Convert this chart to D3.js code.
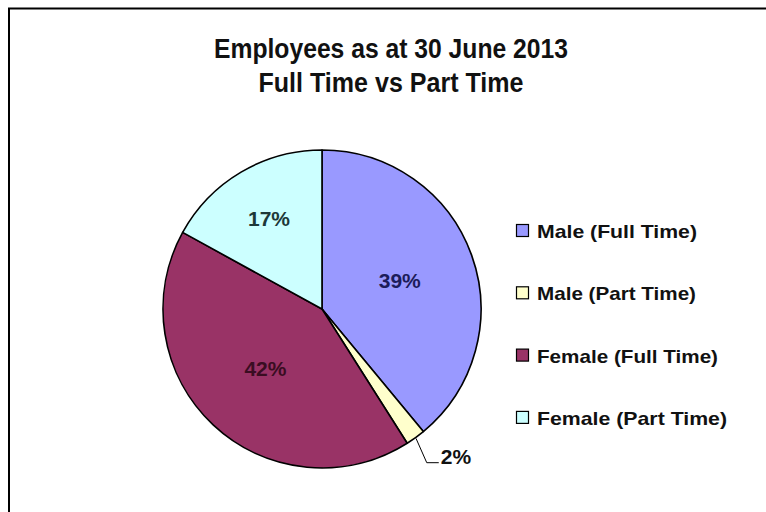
<!DOCTYPE html>
<html>
<head>
<meta charset="utf-8">
<script src="https://cdn.jsdelivr.net/npm/d3@7"></script>
<style>
  html, body { margin: 0; padding: 0; background: #fff; }
  svg { display: block; }
  text { font-family: "Liberation Sans Narrow", "Liberation Sans", Arial, sans-serif; }
</style>
</head>
<body>
<svg id="chart" width="766" height="512"></svg>
<script>
// Staff headcount split by gender and employment type (percent of total)
const titleLines = ["Employees as at 30 June 2013", "Full Time vs Part Time"];
const categories = ["Male (Full Time)", "Male (Part Time)", "Female (Full Time)", "Female (Part Time)"];
const values = [39, 2, 42, 17];
const sliceColors = ["#9999FF", "#FFFFCC", "#993366", "#CCFFFF"];
const labelColors = ["#1c1c5a", "#111111", "#3a0d22", "#1d3838"];

const W = 766, H = 512;
const svg = d3.select("#chart");

// Fit a text node to a target width
function fit(sel, width) {
  sel.attr("textLength", width).attr("lengthAdjust", "spacingAndGlyphs");
}

// Chart frame (only its top and left edges fall inside the view)
svg.append("path")
  .attr("d", `M9,${H} V8.5 H${W}`)
  .attr("fill", "none")
  .attr("stroke", "#000")
  .attr("stroke-width", 2);

// Title
const titleWidths = [354, 265];
svg.append("g").selectAll("text")
  .data(titleLines)
  .join("text")
  .attr("x", 391)
  .attr("y", (d, i) => 58 + i * 34)
  .attr("text-anchor", "middle")
  .attr("font-size", 28)
  .attr("font-weight", "bold")
  .attr("fill", "#111")
  .text(d => d)
  .each(function (d, i) { fit(d3.select(this), titleWidths[i]); });

// Pie
const cx = 322, cy = 309, R = 159;
const pie = d3.pie().sort(null).value(d => d.value);
const data = categories.map((c, i) => ({ name: c, value: values[i], color: sliceColors[i], label: labelColors[i] }));
const arcs = pie(data);
const arc = d3.arc().innerRadius(0).outerRadius(R);

const g = svg.append("g").attr("transform", `translate(${cx},${cy})`);
g.selectAll("path.slice")
  .data(arcs)
  .join("path")
  .attr("class", "slice")
  .attr("d", arc)
  .attr("fill", d => d.data.color)
  .attr("stroke", "#000")
  .attr("stroke-width", 1.6)
  .attr("stroke-linejoin", "round");

const total = d3.sum(values);
const pct = d => Math.round(d.value / total * 100) + "%";
const midAngle = d => (d.startAngle + d.endAngle) / 2;
const polar = (a, r) => [Math.sin(a) * r, -Math.cos(a) * r];

// Inside labels: narrower slices sit further out
const inside = arcs.filter(d => d.data.value / total >= 0.05);
const labelR = d => R * (d.data.value / total < 0.2 ? 0.655 : 0.52);
g.selectAll("text.inlabel")
  .data(inside)
  .join("text")
  .attr("class", "inlabel")
  .attr("x", d => polar(midAngle(d), labelR(d))[0])
  .attr("y", d => polar(midAngle(d), labelR(d))[1] + 7)
  .attr("text-anchor", "middle")
  .attr("font-size", 21)
  .attr("font-weight", "bold")
  .attr("fill", d => d.data.label)
  .text(d => pct(d.data));

// Outside label with leader line for small slices
const outside = arcs.filter(d => d.data.value / total < 0.05);
outside.forEach(d => {
  const a = midAngle(d);
  const p0 = polar(a, R + 1);
  const p1 = polar(a + 0.03, R + 27);
  const p2 = [p1[0] + 12, p1[1]];
  g.append("polyline")
    .attr("points", [p0, p1, p2].map(p => p.join(",")).join(" "))
    .attr("fill", "none")
    .attr("stroke", "#000")
    .attr("stroke-width", 1);
  g.append("text")
    .attr("x", p2[0] + 2)
    .attr("y", p2[1] + 1)
    .attr("font-size", 21)
    .attr("font-weight", "bold")
    .attr("fill", d.data.label)
    .text(pct(d.data));
});

// Legend
const legendWidths = [160, 159, 181, 190];
const lg = svg.append("g").attr("transform", "translate(516,0)");
const rows = lg.selectAll("g")
  .data(data)
  .join("g")
  .attr("transform", (d, i) => `translate(0,${238 + i * 62.3})`);
rows.append("rect")
  .attr("x", 0.5)
  .attr("y", -13.5)
  .attr("width", 12)
  .attr("height", 12)
  .attr("fill", d => d.color)
  .attr("stroke", "#000")
  .attr("stroke-width", 1.2);
rows.append("text")
  .attr("x", 21)
  .attr("y", 0)
  .attr("font-size", 19)
  .attr("font-weight", "bold")
  .attr("fill", "#111")
  .text(d => d.name)
  .each(function (d, i) { fit(d3.select(this), legendWidths[i]); });
</script>
</body>
</html>
